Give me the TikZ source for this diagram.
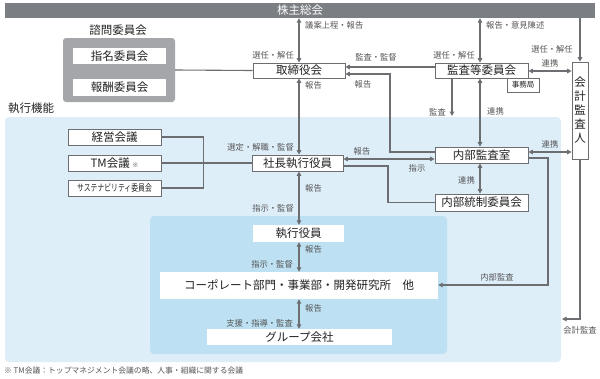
\documentclass[tikz,border=0pt]{standalone}
\usepackage{fontspec}
\setmainfont{Noto Sans CJK JP}
\usetikzlibrary{arrows.meta}
\definecolor{bargray}{HTML}{7B7F83}
\definecolor{boxgray}{HTML}{A4A6A9}
\definecolor{linec}{HTML}{6D6E71}
\definecolor{labc}{HTML}{555555}
\definecolor{txtc}{HTML}{222222}
\definecolor{lblue}{HTML}{DEEEF9}
\definecolor{mblue}{HTML}{BDE1F2}
\begin{document}
\begin{tikzpicture}[x=1pt,y=-1pt,
  box/.style={draw=linec, fill=white, line width=0.7pt, inner sep=0pt, minimum height=16, text=txtc, font=\fontsize{11.5}{11.5}\selectfont},
  wbox/.style={fill=white, inner sep=0pt, minimum height=16, text=txtc, font=\fontsize{11.5}{11.5}\selectfont},
  conn/.style={draw=linec, line width=1.1pt},
  arr/.style={conn, -{Triangle[length=4.5pt,width=4.5pt]}},
  dbl/.style={conn, {Triangle[length=4.5pt,width=4.5pt]}-{Triangle[length=4.5pt,width=4.5pt]}},
  lab/.style={inner sep=0pt, text=labc, font=\fontsize{8.3}{8.3}\selectfont},
  head/.style={inner sep=0pt, text=txtc, font=\fontsize{11.5}{11.5}\selectfont}
]
\useasboundingbox (0,0) rectangle (600,378);
\fill[white] (0,0) rectangle (600,378);

% background regions
\node[fill=lblue, rounded corners=4pt, minimum width=556, minimum height=245, inner sep=0pt] (exec) at (283,239.5) {};
\node[fill=mblue, rounded corners=4pt, minimum width=297, minimum height=138, inner sep=0pt] (inner) at (298.5,285) {};

% top bar
\node[fill=bargray, minimum width=590, minimum height=15, inner sep=0pt, text=white, font=\fontsize{11.5}{11.5}\selectfont] (kabu) at (300,10.5) {株主総会};

% advisory
\node[head] (advlab) at (118,30) {諮問委員会};
\node[fill=boxgray, rounded corners=3pt, minimum width=112, minimum height=64, inner sep=0pt] (adv) at (119,70) {};
\node[wbox, minimum width=93] (shimei) at (119.5,56) {指名委員会};
\node[wbox, minimum width=93, minimum height=17] (hoshu) at (119.5,87.5) {報酬委員会};

\node[head, anchor=west] (execlab) at (8,108) {執行機能};

% main boxes
\node[box, minimum width=92, minimum height=15] (tori) at (299,70.5) {取締役会};
\node[box, minimum width=91] (shacho) at (297.5,163) {社長執行役員};
\node[wbox, minimum width=91, minimum height=17] (shikko) at (298.5,233.5) {執行役員};
\node[wbox, minimum width=278, minimum height=27] (corp) at (299,285.5) {コーポレート部門・事業部・開発研究所　他};
\node[wbox, minimum width=185] (group) at (299.5,337) {グループ会社};

\node[box, minimum width=93, minimum height=15] (kansa) at (481.5,70.5) {監査等委員会};
\node[box, minimum width=32, minimum height=14, font=\fontsize{7.5}{7.5}\selectfont] (jimu) at (523,85) {事務局};
\node[box, minimum width=16, minimum height=97, align=center, font=\fontsize{11.5}{14}\selectfont] (kaikei) at (580,110.5) {会\\計\\監\\査\\人};
\node[box, minimum width=93] (naibu) at (481.5,155) {内部監査室};
\node[box, minimum width=93, minimum height=17] (naitousei) at (481.5,202.5) {内部統制委員会};

\node[box, minimum width=93] (keiei) at (114.5,137) {経営会議};
\node[box, minimum width=93] (tm) at (114.5,163) {TM会議 {\fontsize{6}{6}\selectfont ※}};
\node[box, minimum width=93] (sus) at (114.5,188) {\scalebox{0.72}[1]{\fontsize{9.5}{9.5}\selectfont サステナビリティ委員会}};

% connectors
\draw[conn] (adv.east) -- (tori.west);
\draw[dbl] (tori.north) -- (tori.north |- kabu.south);
\node[lab, anchor=east] (l1) at (294,55) {選任・解任};
\node[lab, anchor=west] (l2) at (305,25) {議案上程・報告};

\draw[dbl] (tori.south) -- (tori.south |- shacho.north);
\node[lab, anchor=west] (l3) at (305,85) {報告};
\node[lab, anchor=east] (l4) at (294,147) {選定・解職・監督};

\draw[dbl] (tori.south |- shacho.south) -- (tori.south |- shikko.north);
\node[lab, anchor=west] (l5) at (305,188) {報告};
\node[lab, anchor=east] (l6) at (294,208) {指示・監督};

\draw[dbl] (tori.south |- shikko.south) -- (tori.south |- corp.north);
\node[lab, anchor=west] (l7) at (305,249) {報告};
\node[lab, anchor=east] (l8) at (293,264) {指示・監督};

\draw[dbl] (tori.south |- corp.south) -- (tori.south |- group.north);
\node[lab, anchor=west] (l9) at (305,308) {報告};
\node[lab, anchor=east] (l10) at (293,323) {支援・指導・監査};

% left bracket
\draw[conn] (keiei.east) -- ++(42,0) |- (sus.east);
\draw[conn] (tm.east) -- (shacho.west);

% audit committee
\draw[arr] (kansa.west |- 0,67) -- (tori.east |- 0,67);
\node[lab] (l11) at (376,57) {監査・監督};
\draw[arr] (naibu.west |- 0,152) -| (390,74) -- (tori.east |- 0,74);
\node[lab] (l12) at (363,84) {報告};
\draw[dbl] (shacho.east |- 0,159) -- (naibu.west |- 0,159);
\node[lab] (l13) at (362,151) {報告};
\node[lab] (l14) at (417,168) {指示};
\draw[conn] (shacho.east |- 0,166) -| (388,202.5) -- (naitousei.west);

\coordinate (kstart) at (452,78);
\coordinate (kend) at (452,116);
\draw[arr] (kstart) -- (kend);
\node[lab, anchor=east] (l15) at (446,112) {監査};

\draw[dbl] (kansa.south -| 480,0) -- (naibu.north -| 480,0);
\node[lab, anchor=west] (l16) at (487,111) {連携};

\draw[dbl] (kansa.east |- 0,71) -- (kaikei.west |- 0,71);
\node[lab] (l17) at (550,63) {連携};

\draw[arr] (kaikei.north |- kabu.south) -- (kaikei.north);
\node[lab] (l18) at (552,49) {選任・解任};

\draw[dbl] (kansa.north -| 480,0) -- (480,0 |- kabu.south);
\node[lab, anchor=west] (l19) at (486,25) {報告・意見陳述};
\node[lab, anchor=east] (l20) at (475,55) {選任・解任};

\draw[dbl] (naibu.east |- 0,152) -- (kaikei.west |- 0,152);
\node[lab] (l21) at (550,144) {連携};

\draw[dbl] (naibu.south -| 480,0) -- (naitousei.north -| 480,0);
\node[lab, anchor=east] (l22) at (475,180) {連携};

\draw[arr] (naibu.east |- 0,158) -| (548,285) -- (corp.east |- 0,285);
\node[lab] (l23) at (497,277) {内部監査};

\coordinate (kaend) at (562,319);
\draw[arr] (kaikei.south) |- (kaend);
\node[lab] (l24) at (580,330) {会計監査};

% footnote
\node[inner sep=0pt, anchor=west, text=labc, font=\fontsize{7.8}{7.8}\selectfont] (fn) at (4,371) {※ TM会議：トップマネジメント会議の略、人事・組織に関する会議};
\end{tikzpicture}
\end{document}
